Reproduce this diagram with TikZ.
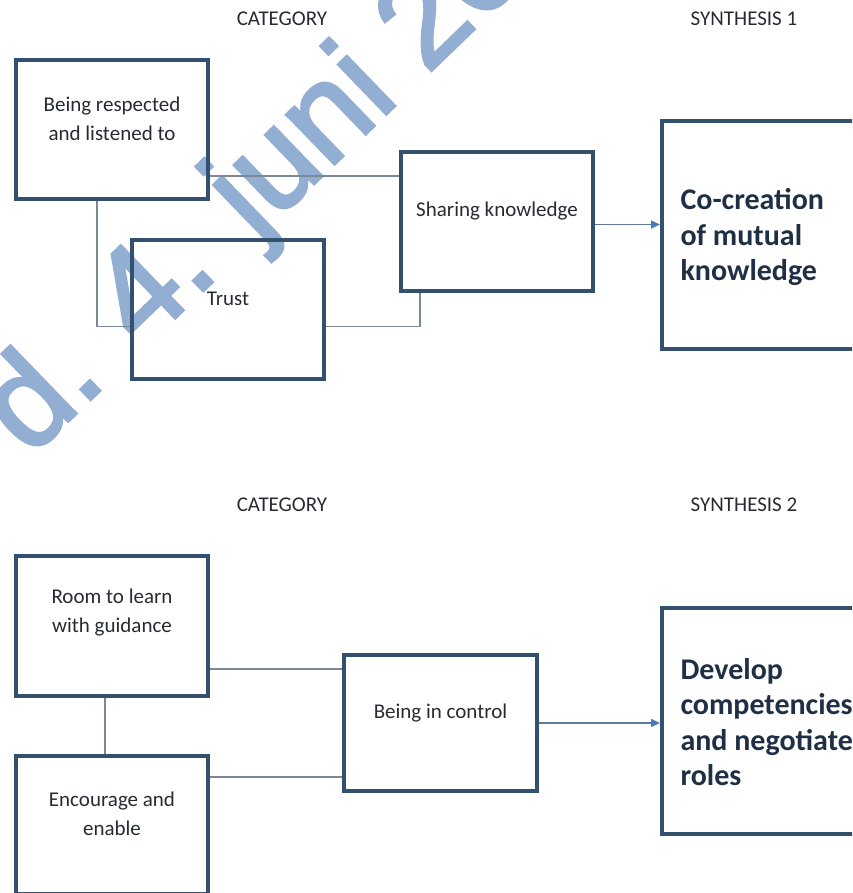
\documentclass[tikz,border=0pt]{standalone}
\usepackage{fontspec}
\setmainfont{Carlito}
\newfontfamily\markfont{Liberation Sans}[FakeBold=2.5]
\usepackage{tikz}
\usetikzlibrary{calc}
\usetikzlibrary{arrows.meta}

\definecolor{boxblue}{HTML}{34506F}
\definecolor{linkgray}{HTML}{7A8898}
\definecolor{arrowline}{HTML}{5E7A99}
\definecolor{tipblue}{HTML}{4A78B8}
\definecolor{wmblue}{HTML}{93AED3}
\definecolor{textdark}{HTML}{262B33}
\definecolor{boldnavy}{HTML}{1F2F45}

\begin{document}
\begin{tikzpicture}[x=1pt,y=-1pt,
    catbox/.style={draw=boxblue,line width=4pt,minimum width=192pt,minimum height=139pt,inner sep=0pt},
    synbox/.style={draw=boxblue,line width=4pt,minimum width=220pt,inner sep=0pt},
    boxtext/.style={text=textdark,align=center,font=\fontsize{21}{29}\selectfont},
    syntext/.style={text=boldnavy,align=left,anchor=west,font=\fontsize{30}{35.5}\selectfont\bfseries},
    heading/.style={text=textdark,font=\fontsize{21}{25}\selectfont},
    link/.style={draw=linkgray,line width=1.5pt},
    lead/.style={draw=arrowline,line width=1.5pt,-{Triangle[length=9pt,width=8pt,color=tipblue]}}]

            % Fix the page and clip what runs off it
            \useasboundingbox (0,0) rectangle (852,893);
            \clip (0,0) rectangle (852,893);

            % Draw watermark
            \node[rotate=44,anchor=base west,text=wmblue,inner sep=0pt,
                  font=\markfont\fontsize{130}{132}\selectfont] (stamp) at (30,458) {d. 4. juni 20};

            % Draw headings
            \node[heading] (cat1) at (282,19) {CATEGORY};
            \node[heading] (syn1head) at (744,19) {SYNTHESIS 1};
            \node[heading] (cat2) at (282,505) {CATEGORY};
            \node[heading] (syn2head) at (744,505) {SYNTHESIS 2};

            % Draw upper boxes
            \node[catbox] (respected) at (112,129.5) {};
            \node[catbox] (trust) at (228,309.5) {};
            \node[catbox] (sharing) at (497,221.5) {};
            \node[synbox,minimum height=228pt] (cocreation) at (772,235) {};

            \node[boxtext] (respectedtxt) at ([yshift=11pt]respected.center) {Being respected\\and listened to};
            \node[boxtext] (trusttxt) at ([yshift=10.5pt]trust.center) {Trust};
            \node[boxtext] (sharingtxt) at ([yshift=10.5pt]sharing.center) {Sharing knowledge};
            \node[syntext] (cocreationtxt) at (677,237) {Co-creation\\of mutual\\knowledge};

            % Draw upper links
            \draw[link] ([yshift=25pt]respected.south east) -- ([yshift=25pt]respected.south east -| sharing.west);
            \draw[link] ([xshift=-15pt]respected.south) |- ([yshift=-17pt]trust.west);
            \draw[link] ([yshift=-17pt]trust.east) -| ([xshift=-77pt]sharing.south);
            \draw[lead] ([yshift=-3pt]sharing.east) -- ([yshift=-3pt]sharing.east -| cocreation.west);

            % Draw lower boxes
            \node[catbox,minimum height=140pt] (room) at (112,626) {};
            \node[catbox,minimum height=138pt] (encourage) at (112,825) {};
            \node[catbox,minimum width=193pt,minimum height=136pt] (control) at (440.5,723) {};
            \node[synbox,minimum height=226pt] (develop) at (772,721) {};

            \node[boxtext] (roomtxt) at ([yshift=13.5pt]room.center) {Room to learn\\with guidance};
            \node[boxtext] (encouragetxt) at ([yshift=11.5pt]encourage.center) {Encourage and\\enable};
            \node[boxtext] (controltxt) at ([yshift=10pt]control.center) {Being in control};
            \node[syntext] (developtxt) at (677,722) {Develop\\competencies\\and negotiate\\roles};

            % Draw lower links
            \draw[link] ([xshift=-7pt]room.south) -- ([xshift=-7pt]room.south |- encourage.north);
            \draw[link] ([yshift=29pt]room.south east) -- ([yshift=29pt]room.south east -| control.west);
            \draw[link] ([yshift=-23pt]encourage.north east) -- ([yshift=-23pt]encourage.north east -| control.west);
            \draw[lead] (control.east) -- (control.east -| develop.west);

\end{tikzpicture}
\end{document}
